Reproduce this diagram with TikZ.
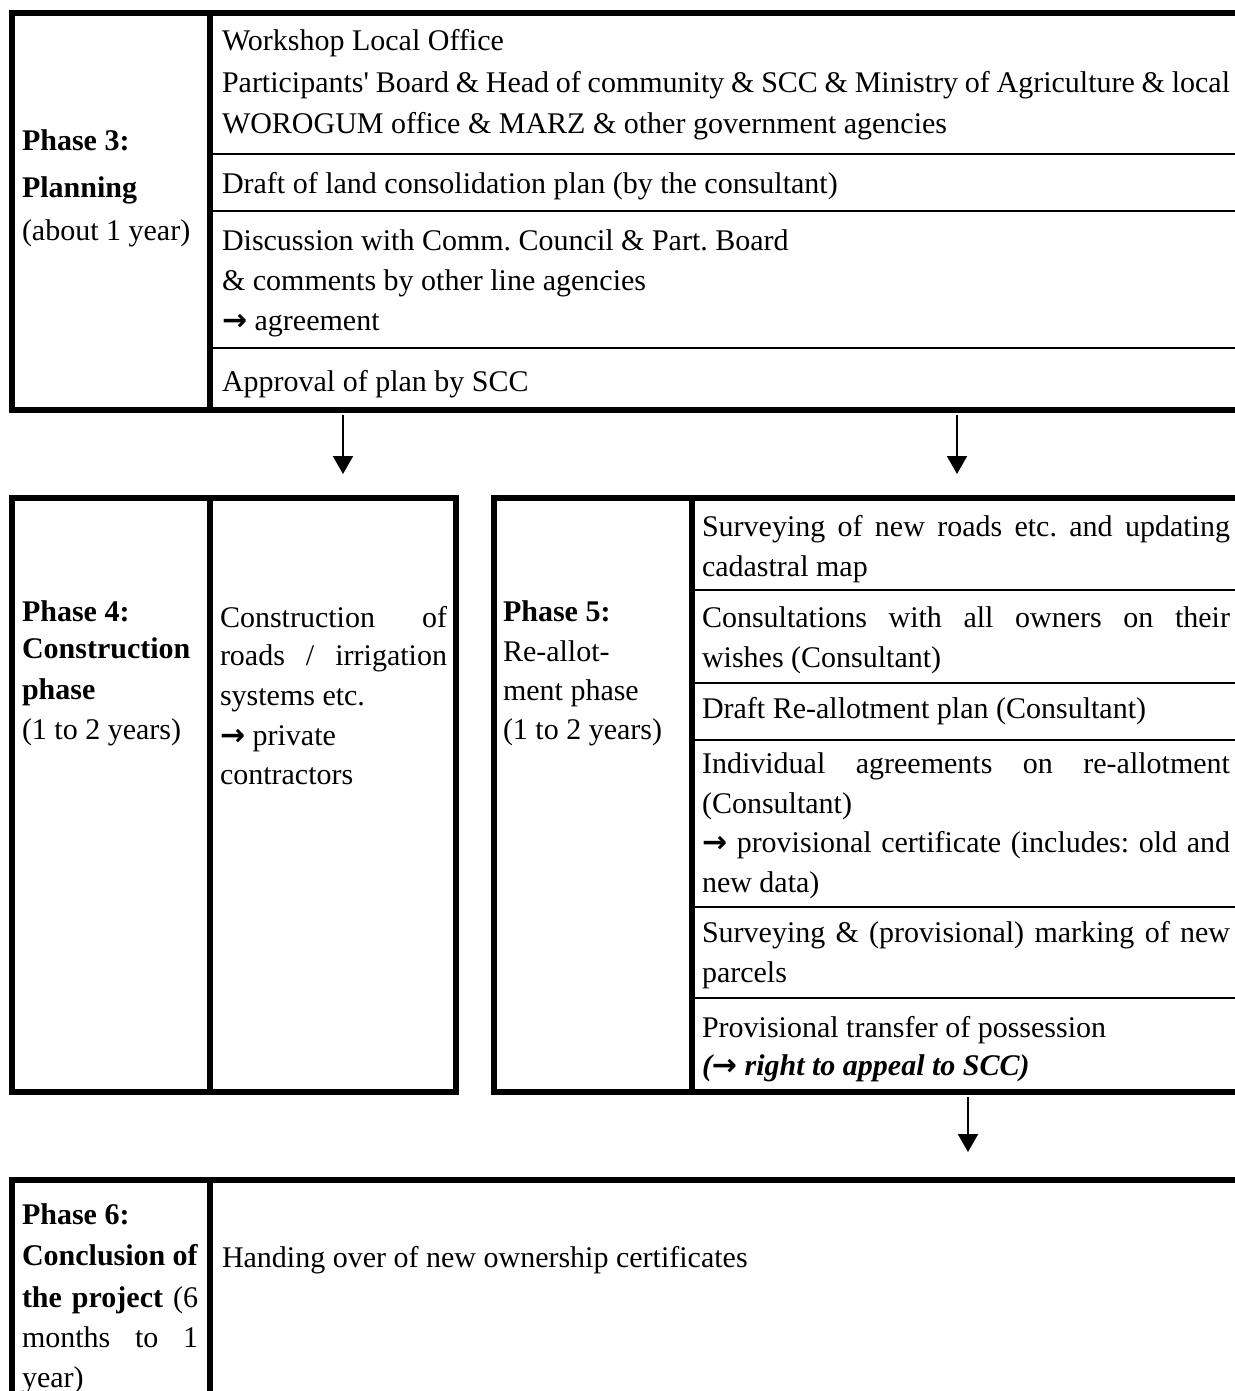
\documentclass[tikz,border=0pt]{standalone}
\usepackage{fontspec}
\setmainfont{Liberation Serif}
\newfontfamily\arrowfont{DejaVu Sans}
\newfontfamily\quotefont{Liberation Serif}
\usetikzlibrary{arrows.meta}
\newcommand\jline[2]{\makebox[#1][s]{#2}}
\newcommand\wingarrow{{\arrowfont\bfseries\fontsize{15pt}{20pt}\selectfont →}}
\newcommand\straightq{{\quotefont '}}
\frenchspacing
\begin{document}
\begin{tikzpicture}[x=0.5pt,y=-0.5pt,
  rulethick/.style={line width=3pt,line cap=rect},
  rulethin/.style={line width=1pt},
  arr/.style={line width=1pt,-{Triangle[width=10pt,length=9pt]}},
  txt/.style={anchor=base west,inner sep=0pt,outer sep=0pt,font=\fontsize{15pt}{20pt}\selectfont\frenchspacing}]
\useasboundingbox (0,0) rectangle (1235,1391);
\clip (0,0) rectangle (1235,1391);
\fill[white] (0,0) rectangle (1235,1391);

% ---------- Phase 3 box ----------
\draw[rulethick] (1250,13) -- (12,13) -- (12,410) -- (1250,410);
\draw[rulethick] (210,13) -- (210,410);
\draw[rulethin] (210,154) -- (1250,154);
\draw[rulethin] (210,211) -- (1250,211);
\draw[rulethin] (210,348) -- (1250,348);

\node[txt] (p3a) at (22,151) {\textbf{Phase 3:}};
\node[txt] (p3b) at (22,198) {\textbf{Planning}};
\node[txt] (p3c) at (22,241) {(about 1 year)};

\node[txt] (w1) at (222,51) {Workshop Local Office};
\node[txt] (w2) at (222,93) {\jline{504pt}{Participants\straightq{} Board \& Head of community \& SCC \& Ministry of Agriculture \& local}};
\node[txt] (w3) at (222,134) {WOROGUM office \& MARZ \& other government agencies};
\node[txt] (d1) at (222,194) {Draft of land consolidation plan (by the consultant)};
\node[txt] (c1) at (222,250) {Discussion with Comm. Council \& Part. Board};
\node[txt] (c2) at (222,290) {\& comments by other line agencies};
\node[txt] (c3) at (222,330) {\wingarrow{} agreement};
\node[txt] (ap) at (222,391) {Approval of plan by SCC};

% ---------- arrows from phase 3 ----------
\coordinate (a1s) at (343,415); \coordinate (a1e) at (343,474);
\coordinate (a2s) at (957,415); \coordinate (a2e) at (957,474);
\draw[arr] (a1s) -- (a1e);
\draw[arr] (a2s) -- (a2e);

% ---------- Phase 4 box ----------
\draw[rulethick] (12,498) rectangle (456,1092);
\draw[rulethick] (210,498) -- (210,1092);

\node[txt] (p4a) at (22,621) {\textbf{Phase 4:}};
\node[txt] (p4b) at (22,658) {\textbf{Construction}};
\node[txt] (p4c) at (22,699) {\textbf{phase}};
\node[txt] (p4d) at (22,739) {(1 to 2 years)};

\node[txt] (k1) at (220,627) {\jline{113.5pt}{Construction of}};
\node[txt] (k2) at (220,665) {\jline{113.5pt}{roads / irrigation}};
\node[txt] (k3) at (220,705) {systems etc.};
\node[txt] (k4) at (220,745) {\wingarrow{} private};
\node[txt] (k5) at (220,784) {contractors};

% ---------- Phase 5 box ----------
\draw[rulethick] (1250,498) -- (494,498) -- (494,1092) -- (1250,1092);
\draw[rulethick] (692,498) -- (692,1092);
\draw[rulethin] (692,590) -- (1250,590);
\draw[rulethin] (692,683) -- (1250,683);
\draw[rulethin] (692,740) -- (1250,740);
\draw[rulethin] (692,907) -- (1250,907);
\draw[rulethin] (692,998) -- (1250,998);

\node[txt] (p5a) at (503,621) {\textbf{Phase 5:}};
\node[txt] (p5b) at (503,661) {Re-allot-};
\node[txt] (p5c) at (503,700) {ment phase};
\node[txt] (p5d) at (503,739) {(1 to 2 years)};

\node[txt] (s1) at (702,536) {\jline{264pt}{Surveying of new roads etc. and updating}};
\node[txt] (s2) at (702,576) {cadastral map};
\node[txt] (s3) at (702,627) {\jline{264pt}{Consultations with all owners on their}};
\node[txt] (s4) at (702,667) {wishes (Consultant)};
\node[txt] (s5) at (702,718) {Draft Re-allotment plan (Consultant)};
\node[txt] (s6) at (702,773) {\jline{264pt}{Individual agreements on re-allotment}};
\node[txt] (s7) at (702,813) {(Consultant)};
\node[txt] (s8) at (702,852) {\jline{264pt}{\wingarrow{} provisional certificate (includes: old and}};
\node[txt] (s9) at (702,892) {new data)};
\node[txt] (s10) at (702,942) {\jline{264pt}{Surveying \& (provisional) marking of new}};
\node[txt] (s11) at (702,982) {parcels};
\node[txt] (s12) at (702,1037) {Provisional transfer of possession};
\node[txt] (s13) at (702,1075) {\textbf{\textit{(\wingarrow{} right to appeal to SCC)}}};

% ---------- arrow to phase 6 ----------
\coordinate (a3s) at (968,1097); \coordinate (a3e) at (968,1152);
\draw[arr] (a3s) -- (a3e);

% ---------- Phase 6 box ----------
\draw[rulethick] (1250,1180) -- (12,1180) -- (12,1400);
\draw[rulethick] (210,1180) -- (210,1400);

\node[txt] (p6a) at (22,1224) {\textbf{Phase 6:}};
\node[txt] (p6b) at (22,1265) {\jline{88pt}{\textbf{Conclusion of}}};
\node[txt] (p6c) at (22,1307) {\jline{88pt}{\textbf{the project} (6}};
\node[txt] (p6d) at (22,1347) {\jline{88pt}{months to 1}};
\node[txt] (p6e) at (22,1387) {year)};
\node[txt] (h1) at (222,1267) {Handing over of new ownership certificates};
\end{tikzpicture}
\end{document}
